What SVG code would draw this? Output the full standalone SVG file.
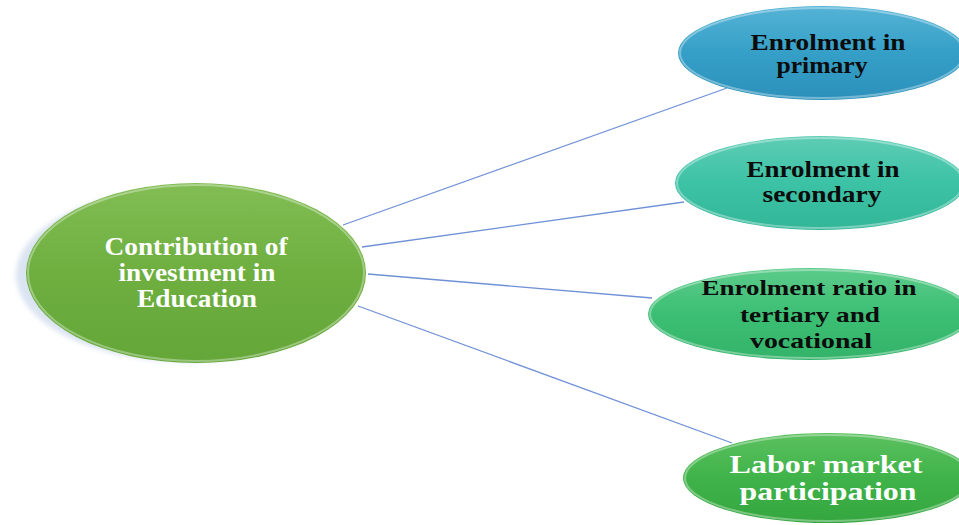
<svg xmlns="http://www.w3.org/2000/svg" width="959" height="525" viewBox="0 0 959 525">
<defs>
<linearGradient id="gC" x1="0" y1="0" x2="0" y2="1"><stop offset="0" stop-color="#82bd53"/><stop offset="0.5" stop-color="#6eaf40"/><stop offset="1" stop-color="#64a638"/></linearGradient>
<linearGradient id="g1" x1="0" y1="0" x2="0" y2="1"><stop offset="0" stop-color="#55b3d6"/><stop offset="0.5" stop-color="#359fc7"/><stop offset="1" stop-color="#2c91bb"/></linearGradient>
<linearGradient id="g2" x1="0" y1="0" x2="0" y2="1"><stop offset="0" stop-color="#5ecdb5"/><stop offset="0.5" stop-color="#3cc2a5"/><stop offset="1" stop-color="#33b698"/></linearGradient>
<linearGradient id="g3" x1="0" y1="0" x2="0" y2="1"><stop offset="0" stop-color="#5ccb8a"/><stop offset="0.5" stop-color="#3cbf74"/><stop offset="1" stop-color="#33b369"/></linearGradient>
<linearGradient id="g4" x1="0" y1="0" x2="0" y2="1"><stop offset="0" stop-color="#5cc160"/><stop offset="0.5" stop-color="#3fb349"/><stop offset="1" stop-color="#35a63f"/></linearGradient>
<filter id="blur" x="-10%" y="-10%" width="120%" height="120%"><feGaussianBlur stdDeviation="2.5"/></filter>
</defs>
<style>
.t{font-family:"Liberation Serif","Times New Roman",serif;font-weight:bold;text-anchor:middle}
.dark{fill:#0c0c0c}
.light{fill:#ffffff}
.rim{fill:none;stroke:#ffffff;stroke-opacity:0.35;stroke-width:2}
.conn{stroke:#6f91d6;stroke-width:1.3;fill:none}
</style>
<rect width="959" height="525" fill="#ffffff"/>
<g id="connectors">
<line class="conn" x1="343" y1="225" x2="727" y2="88"/>
<line class="conn" x1="362" y1="247" x2="684" y2="202"/>
<line class="conn" x1="368" y1="274" x2="652" y2="298"/>
<line class="conn" x1="358" y1="306" x2="732" y2="443"/>
</g>
<g id="center">
<ellipse cx="188" cy="275" rx="172" ry="87" fill="#dbe4f2" filter="url(#blur)"/>
<ellipse cx="196" cy="273" rx="170" ry="90" fill="url(#gC)"/>
<ellipse class="rim" cx="196" cy="273" rx="168" ry="88"/>
<text class="t light" font-size="25"><tspan x="196" y="255" textLength="183" lengthAdjust="spacingAndGlyphs">Contribution of</tspan><tspan x="197" y="281" textLength="157" lengthAdjust="spacingAndGlyphs">investment in</tspan><tspan x="197" y="307" textLength="120" lengthAdjust="spacingAndGlyphs">Education</tspan></text>
</g>
<g id="primary">
<ellipse cx="822" cy="53" rx="144" ry="47" fill="url(#g1)"/>
<ellipse class="rim" cx="822" cy="53" rx="142" ry="45"/>
<text class="t dark" font-size="23"><tspan x="828" y="50" textLength="155" lengthAdjust="spacingAndGlyphs">Enrolment in</tspan><tspan x="822" y="73" textLength="91" lengthAdjust="spacingAndGlyphs">primary</tspan></text>
</g>
<g id="secondary">
<ellipse cx="820" cy="183" rx="145" ry="47" fill="url(#g2)"/>
<ellipse class="rim" cx="820" cy="183" rx="143" ry="45"/>
<text class="t dark" font-size="23"><tspan x="823" y="177" textLength="153" lengthAdjust="spacingAndGlyphs">Enrolment in</tspan><tspan x="822" y="202" textLength="119" lengthAdjust="spacingAndGlyphs">secondary</tspan></text>
</g>
<g id="tertiary">
<ellipse cx="810" cy="314" rx="162" ry="46" fill="url(#g3)"/>
<ellipse class="rim" cx="810" cy="314" rx="160" ry="44"/>
<text class="t dark" font-size="22"><tspan x="809" y="295" textLength="215" lengthAdjust="spacingAndGlyphs">Enrolment ratio in</tspan><tspan x="810" y="322" textLength="140" lengthAdjust="spacingAndGlyphs">tertiary and</tspan><tspan x="811" y="348" textLength="122" lengthAdjust="spacingAndGlyphs">vocational</tspan></text>
</g>
<g id="labor">
<ellipse cx="828" cy="478" rx="145" ry="45" fill="url(#g4)"/>
<ellipse class="rim" cx="828" cy="478" rx="143" ry="43"/>
<text class="t light" font-size="26"><tspan x="826" y="473" textLength="193" lengthAdjust="spacingAndGlyphs">Labor market</tspan><tspan x="828" y="500" textLength="177" lengthAdjust="spacingAndGlyphs">participation</tspan></text>
</g>
</svg>
